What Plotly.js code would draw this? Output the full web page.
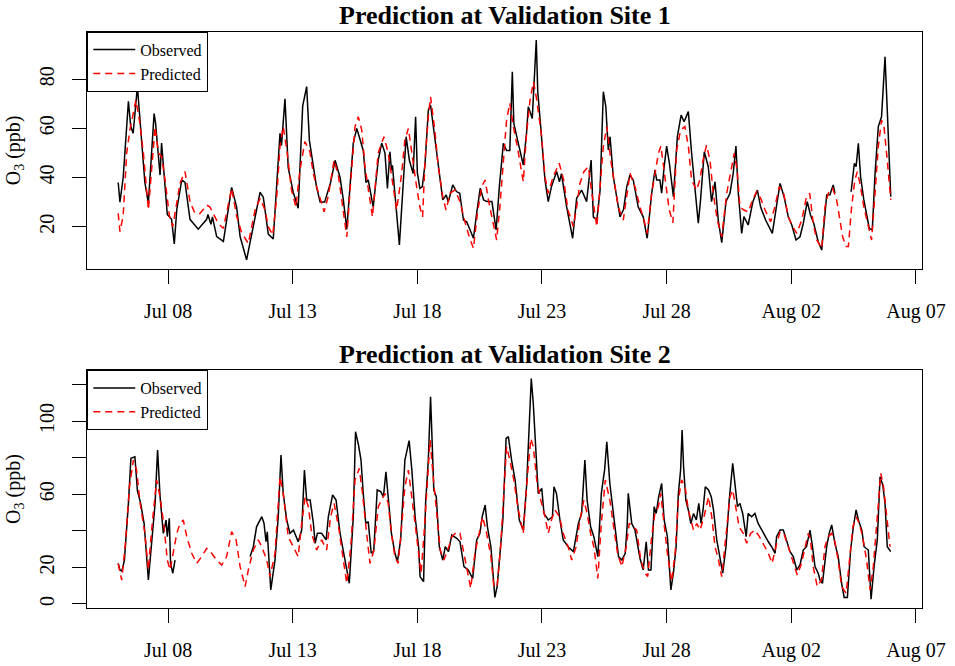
<!DOCTYPE html>
<html>
<head>
<meta charset="utf-8">
<script src="https://cdn.plot.ly/plotly-3.0.1.min.js"></script>
<style>html,body{margin:0;padding:0;background:#fff;}</style>
</head>
<body>
<div id="chart" style="width:955px;height:666px;"></div>
<script>
// Time offsets are in days since 2014-07-06 00:00; values are O3 in ppb.
const site1ObsT = [0,0.07,0.2,0.41,0.5,0.6,0.77,0.87,1.07,1.21,1.44,1.5,1.68,1.74,1.85,1.97,2.14,2.25,2.35,2.55,2.68,2.88,3.21,3.55,3.6,3.72,3.78,3.95,4.22,4.55,4.75,4.89,5.15,5.36,5.69,5.82,6.02,6.22,6.36,6.49,6.55,6.69,6.82,7.02,7.22,7.4,7.56,7.67,7.83,7.96,8.1,8.28,8.52,8.7,8.9,9.03,9.17,9.3,9.43,9.57,9.7,9.83,9.94,10.03,10.23,10.43,10.57,10.7,10.8,10.9,10.96,11.0,11.28,11.44,11.55,11.68,11.77,11.83,11.93,12.0,12.1,12.2,12.31,12.44,12.53,12.7,12.84,13.02,13.16,13.24,13.42,13.57,13.7,13.85,13.98,14.1,14.25,14.38,14.52,14.66,14.79,14.99,15.06,15.16,15.29,15.45,15.58,15.71,15.81,15.87,16.05,16.25,16.38,16.45,16.52,16.61,16.77,16.83,16.97,17.12,17.25,17.38,17.59,17.7,17.78,17.99,18.23,18.39,18.59,18.79,18.97,19.06,19.2,19.33,19.46,19.56,19.66,19.73,19.86,20.0,20.13,20.27,20.4,20.53,20.66,20.86,21.06,21.22,21.4,21.53,21.6,21.73,21.8,21.9,22.0,22.11,22.27,22.43,22.58,22.7,22.87,23.0,23.11,23.27,23.36,23.51,23.67,23.8,23.94,24.07,24.21,24.38,24.54,24.67,24.78,24.87,25.01,25.1,25.27,25.46,25.64,25.77,25.97,26.24,26.4,26.55,26.71,26.88,27.02,27.19,27.35,27.48,27.64,27.77,27.9,28.08,28.22,28.42,28.55,28.68,28.75,29.0,29.4,29.53,29.6,29.69,29.78,29.91,30.13,30.25,30.36,30.49,30.62,30.76,30.85,30.99];
const site1ObsV = [38,30,40,71,61,58,77,63,38,29.5,66,62,41,54,40,25,23,13,27,39,38,23,19,23,25,21,24,16,14,36,28,16,6.5,17,34,32,17,15,36,58,53,72,44,34,27.5,69,77,55,44.5,36,30,30,38,47,40,31,19,37.5,54,60,55,51,38,39,28,47,54,50,35.6,50.5,43,45,12.6,40,56.6,47,43,41.6,64.7,42,35.6,36.3,45.8,67.4,69.5,56.6,44.4,30.9,32.9,30,37,34.3,33.6,22.7,22,18.7,15.3,25.5,35.6,30.9,30.2,30.2,25.5,18.7,36.3,53.9,51,51,83,62,53.9,45.1,58,68.8,66.8,64,95.9,75,58,39,30.2,36.3,42.4,38.3,41.6,28,15.3,31.6,34.9,30.2,47.1,24,22.7,34.9,74.9,68.8,51.2,56.6,40.3,30.9,24,27,36.3,41,39,28,24,15.3,33.6,43,39,39,33.6,44.4,52.8,45.8,32.2,56.6,65.4,62.7,66.8,50,39,21.4,30.9,50.5,44.4,30.2,38.3,22.7,13.5,30.2,33.6,41.7,52.8,34.3,17.3,24.1,20.7,30.2,34.9,28,22.7,17.3,28,37.6,32.2,24,20.7,14.6,15.9,21.3,30.2,24.8,21.4,13.9,10.5,32.9,33,37,33.6,null,34.2,45.8,44.4,53.9,40.3,30.9,19.3,18.7,41.6,60.7,64.7,89.1,67.4,32.2];

const site1PredT = [0,0.07,0.2,0.34,0.47,0.61,0.71,0.85,1.01,1.21,1.37,1.48,1.61,1.74,1.88,2.05,2.19,2.35,2.48,2.68,2.88,3.08,3.28,3.55,3.68,3.81,4.01,4.22,4.35,4.55,4.75,4.95,5.22,5.36,5.49,5.69,5.89,6.02,6.2,6.36,6.49,6.62,6.78,6.95,7.13,7.29,7.49,7.69,7.83,7.96,8.12,8.26,8.42,8.66,8.84,9.03,9.17,9.33,9.5,9.63,9.77,9.9,10.0,10.2,10.43,10.66,10.83,10.96,11.17,11.37,11.5,11.64,11.77,11.97,12.1,12.21,12.31,12.44,12.53,12.7,12.84,13.02,13.15,13.31,13.51,13.71,13.91,14.08,14.25,14.41,14.58,14.72,14.85,15.03,15.18,15.31,15.45,15.58,15.71,15.85,16.01,16.11,16.25,16.38,16.52,16.66,16.77,16.97,17.12,17.25,17.45,17.69,17.87,18.04,18.26,18.39,18.52,18.68,18.86,19.0,19.2,19.33,19.46,19.6,19.76,19.93,20.06,20.26,20.4,20.53,20.73,20.93,21.09,21.22,21.4,21.57,21.67,21.77,21.94,22.1,22.25,22.4,22.56,22.73,22.87,23.0,23.2,23.33,23.46,23.6,23.74,23.87,24.03,24.21,24.41,24.54,24.71,24.83,24.94,25.1,25.27,25.45,25.61,25.77,25.95,26.17,26.34,26.52,26.68,26.88,27.06,27.22,27.42,27.61,27.74,27.88,28.02,28.22,28.35,28.48,28.66,28.82,28.93,29.06,29.2,29.29,29.42,29.55,29.65,29.78,29.91,30.09,30.22,30.36,30.49,30.62,30.72,30.85,30.99];
const site1PredV = [25.4,18,24.4,50,59.3,67.4,71.5,63.4,50,26.8,47,60.7,50,48.6,39,24.7,20,30.9,37.7,42.4,30.2,25.4,25.4,28.8,28,25.4,21.4,19.3,25.4,35.6,24.4,17.6,13.2,20,26.8,31.5,26.8,20,16.6,32.2,52.6,60.7,50,35,28,43,54.6,50.5,41.6,36.3,30.9,26.1,32.2,47.1,40.3,25.4,15.9,39,60.7,64.7,59.3,44.4,38,24,50,56.6,50,40.3,26.8,41.6,55.2,60,50,36.3,28,24,47,64.7,72.8,59.3,44.4,32.2,26.8,33.6,35,30.2,22,15.9,11.2,25.5,36.3,39,30.9,22.7,14.6,28,48.4,63.4,70.2,60.7,52.6,45.8,38.3,58,71.5,78.9,72.8,58,40.3,33.6,40.3,45.8,39,26.8,20,28,37.6,42.4,44.4,33.6,20,36.3,52.6,60.7,47,36.3,28,22.7,33.6,41.7,36.3,28,22.7,17.3,33.6,44.4,49.8,52.8,40,27,21.6,51,59.3,60.7,52.8,39,34.9,39,47,53.2,47,33.6,22.7,15.9,33.6,40.3,49.8,43,28,26.8,26,30.9,34.3,31.6,26.8,22,28,36.3,34.3,24,20,17.3,22.7,32.2,33.6,21.4,14.6,11.2,28,33.6,35.6,30.9,24,15.9,11.9,11.9,28,39,42.4,36.3,28,20.7,14.6,33.6,52.6,63.4,60.7,47,30.9];

const site2ObsT = [0,0.07,0.15,0.25,0.41,0.51,0.67,0.77,0.9,1.04,1.21,1.34,1.48,1.58,1.68,1.81,1.92,1.97,2.05,2.1,2.19,2.28,3.5,5.29,5.42,5.55,5.76,5.85,5.93,5.98,6.12,6.29,6.42,6.53,6.62,6.76,6.89,7.03,7.22,7.36,7.47,7.56,7.7,7.83,7.9,7.99,8.16,8.34,8.43,8.6,8.74,8.9,9.1,9.27,9.43,9.52,9.64,9.74,9.83,9.93,10.03,10.15,10.25,10.39,10.53,10.64,10.74,10.83,10.96,11.1,11.2,11.33,11.5,11.67,11.78,11.91,12.05,12.11,12.25,12.33,12.44,12.53,12.66,12.76,12.88,13.02,13.12,13.25,13.38,13.58,13.71,13.87,14.04,14.22,14.38,14.51,14.6,14.72,14.81,14.95,15.05,15.11,15.2,15.31,15.43,15.56,15.65,15.78,15.92,16.09,16.25,16.38,16.47,16.57,16.65,16.76,16.85,16.99,17.08,17.25,17.42,17.48,17.58,17.72,17.85,18.05,18.26,18.46,18.59,18.72,18.81,18.95,19.08,19.24,19.38,19.51,19.6,19.72,19.8,19.94,20.07,20.2,20.34,20.42,20.46,20.6,20.73,20.93,21.06,21.18,21.27,21.37,21.5,21.58,21.68,21.8,21.9,22.03,22.11,22.17,22.27,22.38,22.47,22.56,22.62,22.68,22.77,22.87,22.97,23.08,23.19,23.29,23.38,23.46,23.55,23.68,23.79,23.88,24.01,24.15,24.25,24.38,24.51,24.65,24.75,24.84,24.94,25.05,25.19,25.27,25.41,25.54,25.67,25.81,25.94,26.08,26.21,26.35,26.41,26.55,26.68,26.81,26.95,27.08,27.22,27.35,27.48,27.61,27.75,27.85,27.95,28.08,28.15,28.25,28.42,28.52,28.62,28.75,28.88,29.02,29.12,29.25,29.38,29.49,29.6,29.69,29.83,29.92,30.09,30.2,30.32,30.45,30.56,30.67,30.76,30.85,30.99];
const site2ObsV = [22.2,18.6,18,24,55,79.6,80.5,62,55,44,13.1,31.3,55,84.2,58.6,38.6,45.9,36.8,46.8,22.2,16.8,24,null,25.9,31.3,42.2,47.7,44,34,39.5,7.7,24,47.7,81.4,60.4,45.9,38.6,40.4,34,40.4,73.2,56.8,56.8,44,33.1,38.6,38.6,35,47.7,59.6,56.8,38.6,24,11.3,47.7,94.2,86.9,78.7,60.4,44,45,27.7,29,62.3,61.4,58.6,72.3,56.8,38.6,27.7,23.1,35,78.7,89.3,73.2,47.7,31.3,14.9,12.2,55,78.7,113.3,62.3,58.6,31.3,24,31.3,28.6,37.7,35.9,34,20.4,18.6,14,35,38.6,47.7,54.1,42.2,31.3,14.9,3.6,9.5,27.7,45.9,90.5,91.5,78.7,67.8,45.9,40.4,64.1,93.3,123.3,109.6,78.7,60.4,63.2,49.5,45.9,47.7,64.1,60.4,45.9,35,31.3,28.6,44,49.5,78.7,56.8,42.2,36.8,25.9,60.4,73.2,88.7,66,56.8,38.6,25.9,24,27.7,44,60.5,44,40.4,25,18.6,34,18.6,18.6,53.2,49.5,58.6,65.9,45.9,36.8,20.4,7.7,16.8,31.3,60.4,73.2,95.1,74.9,56.8,51.4,44,49.5,45.9,55,44,51.4,64.1,62.3,58.6,51.4,35,24,16.8,31.3,56.8,76.9,66,53.2,55,49.5,36.8,49.5,47.7,49.5,44,40.4,37.7,34,31.3,27.7,36.8,40.4,40.4,35,28.6,25.9,18.6,21.3,29.5,31.3,40.4,31.3,20.4,16.8,13.1,11.3,31.3,38.6,43.2,33.1,25.9,11.3,3.6,3.6,29.5,42.2,51.4,45.9,40.4,31.3,29.5,2.6,20.4,35,69.6,65,55,31.3,28.6];

const site2PredT = [0,0.14,0.29,0.45,0.61,0.74,0.88,1.07,1.21,1.34,1.54,1.68,1.84,1.97,2.08,2.21,2.35,2.48,2.61,2.75,2.95,3.15,3.35,3.55,3.75,3.95,4.15,4.35,4.55,4.73,4.89,5.09,5.22,5.42,5.62,5.76,5.96,6.09,6.29,6.49,6.62,6.82,7.03,7.22,7.36,7.5,7.63,7.76,7.96,8.16,8.36,8.52,8.66,8.84,9.03,9.17,9.33,9.5,9.67,9.8,9.97,10.1,10.26,10.43,10.57,10.7,10.83,10.96,11.1,11.23,11.37,11.5,11.64,11.77,11.91,12.05,12.15,12.27,12.4,12.51,12.66,12.82,12.92,13.06,13.22,13.39,13.58,13.71,13.87,14.01,14.14,14.31,14.48,14.62,14.78,14.95,15.07,15.2,15.34,15.48,15.58,15.71,15.87,16.05,16.25,16.38,16.55,16.65,16.79,16.95,17.12,17.25,17.38,17.52,17.7,17.85,18.05,18.19,18.37,18.52,18.68,18.81,18.95,19.08,19.24,19.38,19.54,19.72,19.88,20.03,20.2,20.38,20.5,20.66,20.8,20.96,21.14,21.24,21.4,21.53,21.67,21.76,21.9,22.03,22.2,22.34,22.47,22.6,22.74,22.87,23.08,23.21,23.34,23.5,23.68,23.81,23.94,24.08,24.21,24.38,24.54,24.65,24.78,24.91,25.07,25.21,25.37,25.54,25.72,25.88,26.08,26.23,26.38,26.55,26.7,26.88,27.05,27.24,27.41,27.55,27.68,27.77,27.88,28.04,28.21,28.35,28.48,28.62,28.75,28.88,29.02,29.2,29.33,29.47,29.6,29.73,29.86,30.02,30.16,30.29,30.45,30.59,30.7,30.83,30.96];
const site2PredV = [22,13.1,33,64,78.7,73,55,38.6,18.6,40.4,67.8,58.6,42.2,24,18.6,27.7,38.6,44,45.9,36.8,27.7,22.2,25.9,30.4,27.7,24,21.3,25.9,39.5,35,20.4,9.5,18.6,29.5,35,31.3,24,14.9,27.7,69.6,60.4,36.8,31.3,25.9,44,58.6,53.2,38.6,29.5,35,29.5,47.7,55,42.2,24,11.3,31.3,67.8,74.1,60.4,38,22.2,29.5,53.2,56.8,60.4,55,38.6,25.9,22.2,42.2,64.1,73.2,60.4,44,27.7,16.8,38.6,69.6,89.6,66,44,29.5,24,29.5,36.8,39.5,38.6,27.7,18.6,8.6,27.7,38.6,47.7,38.6,25.9,9.5,9.5,31.3,64.1,86,78.7,67.8,51.4,38.6,64.1,90.5,86,67.8,56.8,47.7,38.6,45.9,51.4,47.7,38.6,31.3,24,31.3,45.9,56.8,49.5,38.6,31.3,14,44,67.8,56.8,42.2,27.7,20.4,31.3,44.1,42.2,40.4,24,16.8,15,36.8,49.5,53.2,60.5,42.2,27.7,12.2,27.7,56.8,67.8,64.1,51.4,40.4,44,40.4,47.7,58.6,47.7,31.3,24,14.9,38.6,58.6,62.3,51.4,42.2,38.6,33.2,38.6,40.4,36.8,33.1,27.7,22.2,31.3,39.5,38.6,31.3,24,15.8,22.2,31.3,38.6,35,20.4,9.5,13.1,31.3,36.8,38.6,34,24,9.5,5.8,24,42.2,47.7,44,36.8,24,7.7,20.4,47.7,71.4,64.1,45.9,31.3];

const tickDates = ['2014-07-08','2014-07-13','2014-07-18','2014-07-23','2014-07-28','2014-08-02','2014-08-07'];
const tickLabels = ['Jul 08','Jul 13','Jul 18','Jul 23','Jul 28','Aug 02','Aug 07'];
const y1Ticks = [20,40,60,80];
const y1Labels = ['20','40','60','80'];
const y2Ticks = [0,20,60,100];
const y2Labels = ['0','20','60','100'];
const y2TickStep = 20;
const panelTitles = ['Prediction at Validation Site 1','Prediction at Validation Site 2'];
const seriesNames = ['Observed','Predicted'];

const BASE = Date.UTC(2014, 6, 6);
function toDate(t) {
  return new Date(BASE + t * 86400000).toISOString().replace('T', ' ').slice(0, 19);
}
const FONT = 'Liberation Serif, Times New Roman, serif';

function mk(tArr, vArr, name, xa, ya, leg, isPred) {
  return {
    x: tArr.map(toDate), y: vArr, name: name, type: 'scatter', mode: 'lines',
    xaxis: xa, yaxis: ya, legend: leg, connectgaps: false,
    line: isPred ? {color: '#ff0000', width: 1.5, dash: '7px,5px'} : {color: '#000000', width: 1.5}
  };
}

const data = [
  mk(site1ObsT, site1ObsV, seriesNames[0], 'x', 'y', 'legend', false),
  mk(site1PredT, site1PredV, seriesNames[1], 'x', 'y', 'legend', true),
  mk(site2ObsT, site2ObsV, seriesNames[0], 'x2', 'y2', 'legend2', false),
  mk(site2PredT, site2PredV, seriesNames[1], 'x2', 'y2', 'legend2', true)
];

const xRange = [toDate(-1.24), toDate(32.23)];
function xAxis(anchor, dom) {
  return {
    domain: dom, anchor: anchor, type: 'date', range: xRange,
    tickmode: 'array', tickvals: tickDates, ticktext: tickLabels,
    ticks: 'outside', ticklen: 14, tickwidth: 1, tickcolor: '#000',
    showline: true, mirror: true, linecolor: '#000', linewidth: 1,
    showgrid: false, zeroline: false, ticklabelstandoff: 10,
    tickfont: {family: FONT, size: 20, color: '#000'}
  };
}
function yAxis(anchor, dom, range, tv, tt, minorStep) {
  const ax = {
    domain: dom, anchor: anchor, range: range,
    tickmode: 'array', tickvals: tv, ticktext: tt, tickangle: -90,
    ticks: 'outside', ticklen: 14, tickwidth: 1, tickcolor: '#000',
    showline: true, mirror: true, linecolor: '#000', linewidth: 1,
    showgrid: false, zeroline: false, ticklabelstandoff: 10,
    tickfont: {family: FONT, size: 20, color: '#000'},
    title: {text: 'O<sub>3</sub> (ppb)', font: {family: FONT, size: 20, color: '#000'}, standoff: 10}
  };
  if (minorStep) {
    ax.minor = {tickmode: 'linear', tick0: 0, dtick: minorStep, ticks: 'outside',
                ticklen: 14, tickwidth: 1, tickcolor: '#000', showgrid: false};
  }
  return ax;
}
function legendAt(y) {
  return {
    x: 0.0914, y: y, xanchor: 'left', yanchor: 'top',
    bordercolor: '#000', borderwidth: 1, bgcolor: '#fff',
    font: {family: FONT, size: 16, color: '#000'}, tracegroupgap: 0,
    itemwidth: 42
  };
}

const layout = {
  width: 955, height: 666,
  margin: {l: 0, r: 0, t: 0, b: 0},
  paper_bgcolor: '#fff', plot_bgcolor: '#fff',
  font: {family: FONT, color: '#000'},
  showlegend: true,
  xaxis: xAxis('y', [0.0914, 0.9651]),
  yaxis: yAxis('x', [0.5961, 0.9524], [2.8, 99.3], y1Ticks, y1Labels, null),
  xaxis2: xAxis('y2', [0.0914, 0.9651]),
  yaxis2: yAxis('x2', [0.0871, 0.4444], [-2.2, 127.9], y2Ticks, y2Labels, y2TickStep),
  legend: legendAt(0.9524),
  legend2: legendAt(0.4444),
  annotations: [
    {text: '<b>' + panelTitles[0] + '</b>', xref: 'paper', yref: 'paper', x: 0.5283, y: 0.976,
     xanchor: 'center', yanchor: 'middle', showarrow: false, font: {family: FONT, size: 26, color: '#000'}},
    {text: '<b>' + panelTitles[1] + '</b>', xref: 'paper', yref: 'paper', x: 0.5283, y: 0.467,
     xanchor: 'center', yanchor: 'middle', showarrow: false, font: {family: FONT, size: 26, color: '#000'}}
  ]
};

Plotly.newPlot('chart', data, layout, {displayModeBar: false, staticPlot: true});
</script>
</body>
</html>
